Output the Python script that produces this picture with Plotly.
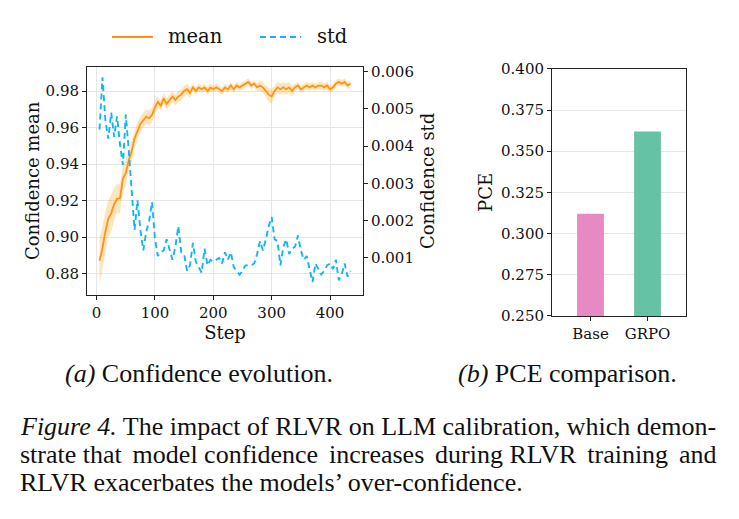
import plotly.graph_objects as go

# ---------------- data ----------------
steps = list(range(5, 440, 5))
conf_mean = [0.887, 0.894, 0.903, 0.910, 0.913, 0.918, 0.921, 0.921, 0.932, 0.935,
             0.942, 0.947, 0.954, 0.958, 0.962, 0.964, 0.966, 0.965, 0.967, 0.971,
             0.974, 0.972, 0.976, 0.973, 0.975, 0.977, 0.975, 0.977, 0.978, 0.980,
             0.981, 0.979, 0.982, 0.980, 0.982, 0.981, 0.982, 0.980, 0.982, 0.981,
             0.982, 0.981, 0.980, 0.982, 0.981, 0.983, 0.981, 0.983, 0.982, 0.983,
             0.984, 0.985, 0.983, 0.984, 0.982, 0.983, 0.982, 0.980, 0.978, 0.977,
             0.980, 0.982, 0.981, 0.982, 0.981, 0.982, 0.980, 0.982, 0.983, 0.981,
             0.982, 0.983, 0.982, 0.983, 0.982, 0.983, 0.983, 0.982, 0.983, 0.981,
             0.982, 0.984, 0.985, 0.984, 0.985, 0.983, 0.984]
mean_band = [0.013, 0.012, 0.011, 0.010, 0.010, 0.009, 0.008, 0.008, 0.007, 0.007,
             0.006, 0.006, 0.005, 0.005, 0.004, 0.004, 0.004, 0.004, 0.004, 0.004,
             0.003, 0.003, 0.003, 0.003, 0.003, 0.003, 0.003, 0.003, 0.003, 0.003,
             0.003, 0.003, 0.002, 0.002, 0.002, 0.002, 0.002, 0.002, 0.002, 0.002,
             0.002, 0.002, 0.002, 0.002, 0.002, 0.002, 0.002, 0.002, 0.002, 0.002,
             0.002, 0.002, 0.002, 0.002, 0.002, 0.003, 0.003, 0.003, 0.004, 0.004,
             0.003, 0.003, 0.003, 0.003, 0.003, 0.003, 0.003, 0.002, 0.002, 0.002,
             0.002, 0.002, 0.002, 0.002, 0.002, 0.002, 0.002, 0.002, 0.002, 0.002,
             0.002, 0.002, 0.002, 0.002, 0.002, 0.002, 0.002]
conf_std = [0.00445, 0.00585, 0.00470, 0.00420, 0.00490, 0.00425, 0.00480, 0.00405, 0.00350, 0.00485,
            0.00390, 0.00290, 0.00175, 0.00255, 0.00175, 0.00120, 0.00170, 0.00200, 0.00250, 0.00150,
            0.00105, 0.00115, 0.00120, 0.00150, 0.00120, 0.00095, 0.00130, 0.00185, 0.00115, 0.00110,
            0.00065, 0.00080, 0.00140, 0.00090, 0.00075, 0.00060, 0.00125, 0.00080, 0.00095, 0.00090,
            0.00095, 0.00100, 0.00085, 0.00115, 0.00095, 0.00115, 0.00075, 0.00065, 0.00055, 0.00065,
            0.00080, 0.00080, 0.00080, 0.00085, 0.00110, 0.00145, 0.00120, 0.00150, 0.00185, 0.00210,
            0.00150, 0.00145, 0.00080, 0.00130, 0.00150, 0.00110, 0.00125, 0.00130, 0.00160, 0.00120,
            0.00095, 0.00105, 0.00070, 0.00035, 0.00085, 0.00070, 0.00055, 0.00065, 0.00080, 0.00085,
            0.00070, 0.00095, 0.00040, 0.00055, 0.00085, 0.00050, 0.00065]

models = ["Base", "GRPO"]
pce = [0.312, 0.362]
bar_colors = ["#e78ac3", "#66c2a5"]

mean_ticks = [0.88, 0.90, 0.92, 0.94, 0.96, 0.98]
std_ticks = [0.001, 0.002, 0.003, 0.004, 0.005, 0.006]
pce_ticks = [0.250, 0.275, 0.300, 0.325, 0.350, 0.375, 0.400]
step_ticks = [0, 100, 200, 300, 400]

# ---------------- styling ----------------
ORANGE = "#ff9410"
BLUE = "#12b5fb"
SERIF = "'DejaVu Serif', serif"
TIMES = "'Liberation Serif', 'Times New Roman', serif"
GRID = "#e6e6e6"
SPINE = "#222222"
TICKF = dict(family=SERIF, size=15, color="#111")
TITLEF = dict(family=SERIF, size=18, color="#111")

lower = [m - b for m, b in zip(conf_mean, mean_band)]
upper = [m + b for m, b in zip(conf_mean, mean_band)]

fig = go.Figure()
fig.add_trace(go.Scatter(x=steps, y=lower, mode="lines", line=dict(width=0),
                         showlegend=False, hoverinfo="skip", xaxis="x", yaxis="y"))
fig.add_trace(go.Scatter(x=steps, y=upper, mode="lines", line=dict(width=0),
                         fill="tonexty", fillcolor="rgba(255,165,40,0.30)",
                         showlegend=False, hoverinfo="skip", xaxis="x", yaxis="y"))
fig.add_trace(go.Scatter(x=steps, y=conf_mean, mode="lines", name="mean",
                         line=dict(color=ORANGE, width=1.8), xaxis="x", yaxis="y",
                         showlegend=False))
fig.add_trace(go.Scatter(x=steps, y=conf_std, mode="lines", name="std",
                         line=dict(color=BLUE, width=1.9, dash="6px,4px"),
                         xaxis="x", yaxis="y2", showlegend=False))
fig.add_trace(go.Bar(x=models, y=[v - 0.25 for v in pce], base=0.25,
                     marker=dict(color=bar_colors, line=dict(width=0)),
                     width=0.47, xaxis="x2", yaxis="y3", showlegend=False))

W, H = 739, 519
def px(x):
    return x / W
def py(y):
    return 1 - y / H

axis_common = dict(showline=True, linecolor=SPINE, linewidth=1, ticks="outside",
                   ticklen=4, tickwidth=1, tickcolor=SPINE, tickfont=TICKF,
                   zeroline=False)

fig.update_layout(
    width=W, height=H, margin=dict(l=0, r=0, t=0, b=0),
    paper_bgcolor="white", plot_bgcolor="white",
    font=dict(family=SERIF, color="#111"),
    xaxis=dict(domain=[px(87), px(363)], range=[-16.5, 456.5], tickvals=step_ticks,
               showgrid=True, gridcolor=GRID, mirror=True, anchor="y",
               title=dict(text="Step", font=TITLEF, standoff=2), **axis_common),
    yaxis=dict(domain=[py(296), py(60)], range=[0.8684, 0.9932], tickvals=mean_ticks,
               tickformat=".2f", showgrid=True, gridcolor=GRID, anchor="x",
               title=dict(text="Confidence mean", font=TITLEF, standoff=1), **axis_common),
    yaxis2=dict(range=[0.00001, 0.00613], tickvals=std_ticks, tickformat=".3f",
                overlaying="y", side="right", anchor="x", showgrid=False,
                title=dict(text="Confidence std", font=TITLEF, standoff=8), **axis_common),
    xaxis2=dict(domain=[px(552), px(686)], range=[-0.675, 1.675], anchor="y3",
                showgrid=False, mirror=True, **axis_common),
    yaxis3=dict(domain=[py(318), py(62)], range=[0.25, 0.40], tickvals=pce_ticks,
                tickformat=".3f", showgrid=True, gridcolor=GRID, mirror=True, anchor="x2",
                title=dict(text="PCE", font=TITLEF, standoff=3), **axis_common),
)

# manual legend (line samples + labels)
ly = py(29)
fig.add_shape(type="line", xref="paper", yref="paper", x0=px(112), x1=px(153), y0=ly, y1=ly,
              line=dict(color=ORANGE, width=1.8))
fig.add_shape(type="line", xref="paper", yref="paper", x0=px(260), x1=px(301), y0=ly, y1=ly,
              line=dict(color=BLUE, width=1.9, dash="6px,4px"))
LEGF = dict(family=SERIF, size=19.5, color="#111")
fig.add_annotation(x=px(166), y=ly, xref="paper", yref="paper", text="mean", showarrow=False,
                   xanchor="left", yanchor="middle", font=LEGF)
fig.add_annotation(x=px(315), y=ly, xref="paper", yref="paper", text="std", showarrow=False,
                   xanchor="left", yanchor="middle", font=LEGF)

CAPF = dict(family=TIMES, size=26, color="#111")
fig.add_annotation(x=px(199), y=py(378), xref="paper", yref="paper",
                   text="<i>(a)</i> Confidence evolution.", showarrow=False,
                   xanchor="center", yanchor="middle", font=CAPF)
fig.add_annotation(x=px(567), y=py(378), xref="paper", yref="paper",
                   text="<i>(b)</i> PCE comparison.", showarrow=False,
                   xanchor="center", yanchor="middle", font=CAPF)
TS = "&#8198;"
cap_lines = [
    "<i>Figure 4.</i> The impact of RLVR on LLM calibration, which demon-",
    f"strate that{TS} model confidence{TS} increases{TS} during RLVR{TS} training{TS} and",
    "RLVR exacerbates the models’ over-confidence.",
]
for i, t in enumerate(cap_lines):
    fig.add_annotation(x=px(18), y=py(432 + 29 * i), xref="paper", yref="paper",
                       text=t, showarrow=False, xanchor="left", yanchor="middle", font=CAPF)

fig.write_html("out.html")
